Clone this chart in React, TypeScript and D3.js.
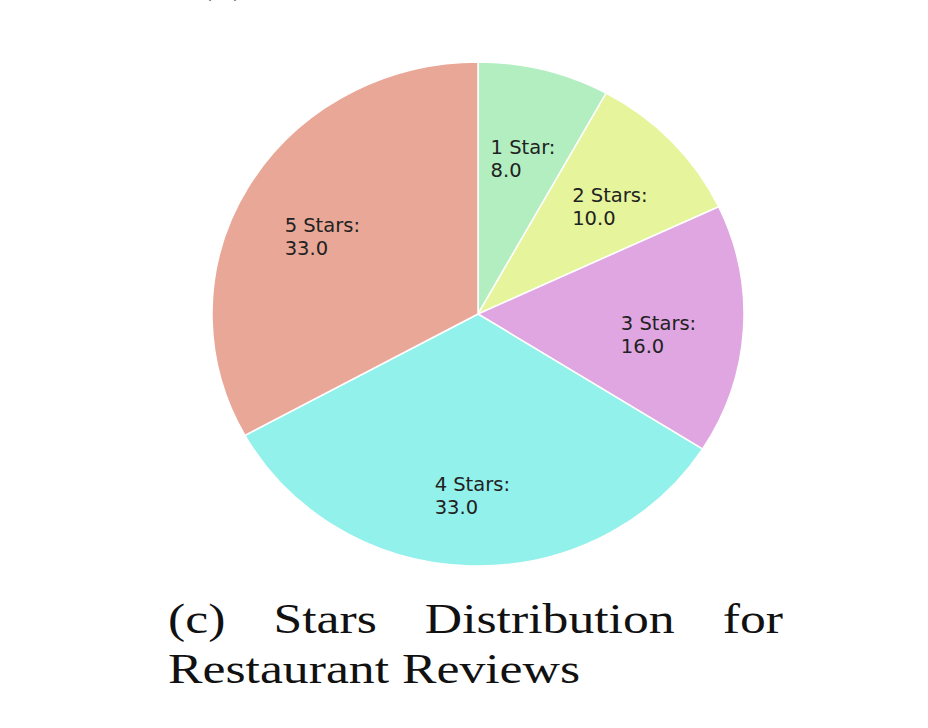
import React, { useEffect, useRef } from "react";
import * as d3 from "d3";

const labels = ["1 Star", "2 Stars", "3 Stars", "4 Stars", "5 Stars"];
const values = [8.0, 10.0, 16.0, 33.0, 33.0];
const colors = ["#b3eec1", "#e6f59c", "#e0a6e2", "#93f1eb", "#e9a897"];
const captionLine1 = ["(c)", "Stars", "Distribution", "for"];
const captionLine2 = "Restaurant Reviews";

const App: React.FC = () => {
  const ref = useRef<SVGSVGElement | null>(null);

  useEffect(() => {
    if (!ref.current) return;
    const width = 928;
    const height = 728;
    const cx = 478;
    const cy = 314;
    const ry = 252;
    const rx = 266;
    const sx = rx / ry;

    const svg = d3.select(ref.current);
    svg.selectAll("*").remove();
    svg.attr("width", width).attr("height", height);

    svg.append("rect").attr("width", width).attr("height", height).attr("fill", "#fff");

    const pie = d3
      .pie<number>()
      .sort(null)
      .startAngle(0)
      .endAngle(2 * Math.PI);
    const arcs = pie(values);

    const arc = d3.arc<d3.PieArcDatum<number>>().innerRadius(0).outerRadius(ry);

    const g = svg.append("g").attr("transform", `translate(${cx},${cy}) scale(${sx},1)`);
    g.selectAll("path")
      .data(arcs)
      .join("path")
      .attr("d", arc)
      .attr("fill", (d, i) => colors[i])
      .attr("stroke", "#fff")
      .attr("stroke-width", 1.5)
      .attr("vector-effect", "non-scaling-stroke");

    // labels: block centred near 0.68 of the radius, lines left aligned
    const labelArc = d3
      .arc<d3.PieArcDatum<number>>()
      .innerRadius(ry * 0.68)
      .outerRadius(ry * 0.68);
    const fs = 19.5;
    arcs.forEach((d, i) => {
      const [lx, ly] = labelArc.centroid(d);
      const t = svg
        .append("text")
        .style("font-family", "DejaVu Sans, sans-serif")
        .style("font-size", `${fs}px`)
        .attr("fill", "#222");
      const l1 = t.append("tspan").text(`${labels[i]}:`);
      const l2 = t.append("tspan").text(values[i].toFixed(1));
      const w = Math.max(
        (l1.node() as SVGTSpanElement).getComputedTextLength(),
        (l2.node() as SVGTSpanElement).getComputedTextLength()
      );
      const x0 = cx + lx * sx - w / 2;
      const y0 = cy + ly + 10;
      l1.attr("x", x0).attr("y", y0 - 11.5 + fs * 0.36);
      l2.attr("x", x0).attr("y", y0 + 11.5 + fs * 0.36);
    });

    // caption, justified first line
    const serif = "Liberation Serif, Times New Roman, serif";
    const capSize = 42;
    const left = 168;
    const right = 783;
    const line2 = svg
      .append("text")
      .attr("x", left)
      .attr("y", 683)
      .style("font-family", serif)
      .style("font-size", `${capSize}px`)
      .attr("fill", "#111")
      .text(captionLine2);
    const natural2 = (line2.node() as SVGTextElement).getComputedTextLength();
    const k = 412 / natural2;
    line2.attr("textLength", 412).attr("lengthAdjust", "spacingAndGlyphs");

    const words = captionLine1.map((w) => {
      const t = svg
        .append("text")
        .attr("y", 633)
        .style("font-family", serif)
        .style("font-size", `${capSize}px`)
        .attr("fill", "#111")
        .text(w);
      const nat = (t.node() as SVGTextElement).getComputedTextLength() * k;
      t.attr("textLength", nat).attr("lengthAdjust", "spacingAndGlyphs");
      return { t, w: nat };
    });
    const total = d3.sum(words, (d) => d.w);
    const gap = (right - left - total) / (words.length - 1);
    let x = left;
    words.forEach((d) => {
      d.t.attr("x", x);
      x += d.w + gap;
    });

    // tail of the previous sub-caption, cut off at the top as in the page
    svg
      .append("text")
      .attr("x", 198)
      .attr("y", -8)
      .style("font-family", serif)
      .style("font-size", `${capSize}px`)
      .attr("fill", "#111")
      .text("(b)");
  }, []);

  return (
    <svg
      ref={ref}
      style={{ position: "absolute", left: 0, top: 0, display: "block" }}
    ></svg>
  );
};

export default App;
